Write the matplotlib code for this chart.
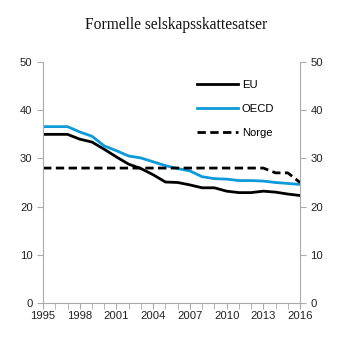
import matplotlib
matplotlib.use("Agg")
import matplotlib.pyplot as plt
from matplotlib.ticker import MultipleLocator

years = list(range(1995, 2017))
eu = [35.0, 35.0, 35.0, 34.0, 33.4, 31.9, 30.3, 28.8, 27.9, 26.6, 25.1, 25.0,
      24.5, 23.9, 23.9, 23.2, 22.9, 22.9, 23.2, 23.0, 22.6, 22.3]
oecd = [36.6, 36.6, 36.6, 35.5, 34.6, 32.6, 31.6, 30.5, 30.1, 29.3, 28.5, 27.9,
        27.4, 26.2, 25.8, 25.7, 25.4, 25.4, 25.3, 25.0, 24.8, 24.6]
norge = [28, 28, 28, 28, 28, 28, 28, 28, 28, 28, 28, 28,
         28, 28, 28, 28, 28, 28, 28, 27, 27, 25]
xtick_labels = [1995, 1998, 2001, 2004, 2007, 2010, 2013, 2016]

plt.rcParams['font.family'] = ['Liberation Sans', 'DejaVu Sans']

fig = plt.figure(figsize=(3.53, 3.53), dpi=100)
ax = fig.add_axes([0.122, 0.142, 0.728, 0.682])

ax.plot(years, eu, color='black', lw=2.0, label='EU')
ax.plot(years, oecd, color='#0d9ad8', lw=2.0, label='OECD')
ax.plot(years, norge, color='black', lw=2.0, ls=(0, (3, 1.6)), label='Norge')

ax.set_xlim(1995, 2016)
ax.set_ylim(0, 50)
ax.set_xticks(xtick_labels)
ax.set_xticklabels([str(y) for y in xtick_labels])
ax.xaxis.set_minor_locator(MultipleLocator(1))
ax.set_yticks(range(0, 51, 10))

for s in ['left', 'right', 'bottom']:
    ax.spines[s].set_color('#aaaaaa')
    ax.spines[s].set_linewidth(0.8)
ax.spines['top'].set_visible(False)

ax.tick_params(axis='both', which='both', color='#aaaaaa', labelsize=8.1,
               labelcolor='#222222', direction='out')
ax.tick_params(axis='x', which='major', length=4, pad=2)
ax.tick_params(axis='x', which='minor', length=4)
ax.tick_params(axis='y', length=4, left=True, right=True, labelleft=True, labelright=True)

ax.legend(loc='upper left', bbox_to_anchor=(0.6, 0.925), frameon=False, fontsize=8.1,
          borderpad=0, borderaxespad=0,
          handlelength=3.6, handletextpad=0.35, labelspacing=1.25)

fig.text(0.5, 0.93, 'Formelle selskapsskattesatser', ha='center', va='center',
         family=['Liberation Serif'], fontsize=11.2, color='#111111')

fig.savefig('out.png', dpi=100)
